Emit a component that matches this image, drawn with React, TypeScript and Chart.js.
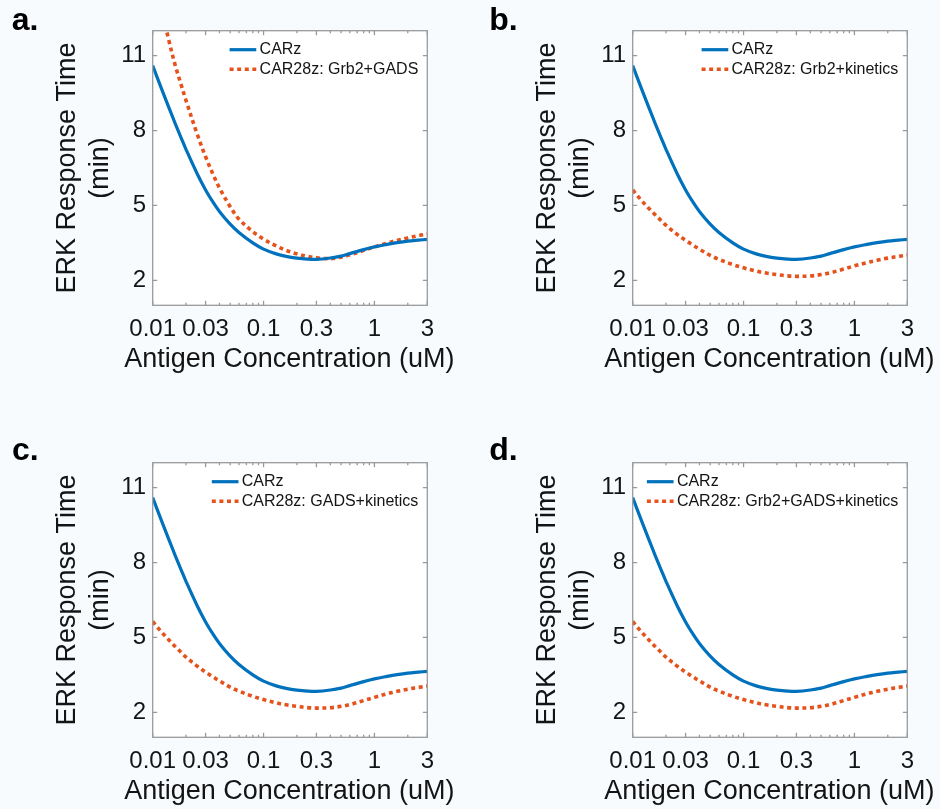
import React, { useEffect, useRef } from 'react';
import { Chart, registerables } from 'chart.js';

Chart.register(...registerables);

// ---------- data ----------
const concentrationUM = [
  0.01, 0.012, 0.014, 0.016, 0.018, 0.02, 0.025, 0.03, 0.035, 0.04, 0.05, 0.06, 0.08,
  0.1, 0.13, 0.16, 0.2, 0.25, 0.3, 0.4, 0.5, 0.6, 0.8, 1, 1.3, 1.6, 2, 2.5, 3,
];

const carzTime = [
  10.6, 9.68, 8.92, 8.27, 7.72, 7.24, 6.3, 5.62, 5.13, 4.76, 4.25, 3.92, 3.5,
  3.25, 3.06, 2.96, 2.89, 2.85, 2.84, 2.895, 2.97, 3.07, 3.23, 3.34, 3.44, 3.51, 3.57, 3.61, 3.64,
];

const grb2GadsTime = [
  14.6, 12.9, 11.6, 10.6, 9.85, 9.2, 7.9, 6.95, 6.25, 5.7, 4.95, 4.45, 3.95,
  3.65, 3.38, 3.2, 3.06, 2.96, 2.9, 2.87, 2.93, 3.02, 3.2, 3.34, 3.49, 3.6, 3.7, 3.79, 3.85,
];

const grb2KineticsTime = [
  5.62, 5.2, 4.88, 4.62, 4.4, 4.2, 3.85, 3.6, 3.41, 3.25, 3.0, 2.84, 2.63,
  2.5, 2.37, 2.29, 2.23, 2.18, 2.16, 2.175, 2.23, 2.3, 2.45, 2.58, 2.71, 2.8, 2.89, 2.96, 3.01,
];

const gadsKineticsTime = [
  5.64, 5.22, 4.9, 4.63, 4.41, 4.21, 3.86, 3.61, 3.42, 3.26, 3.01, 2.85, 2.64,
  2.51, 2.38, 2.3, 2.24, 2.19, 2.17, 2.185, 2.24, 2.31, 2.47, 2.6, 2.74, 2.84, 2.93, 3.0, 3.05,
];

const grb2GadsKineticsTime = [
  5.64, 5.22, 4.9, 4.63, 4.41, 4.21, 3.86, 3.61, 3.42, 3.26, 3.01, 2.85, 2.64,
  2.51, 2.38, 2.3, 2.24, 2.19, 2.17, 2.185, 2.24, 2.31, 2.47, 2.6, 2.74, 2.84, 2.93, 3.0, 3.05,
];

const xTickValues = [0.01, 0.03, 0.1, 0.3, 1, 3];
const xTickLabels = ['0.01', '0.03', '0.1', '0.3', '1', '3'];
const yTickValues = [2, 5, 8, 11];
const yTickLabels = ['2', '5', '8', '11'];

const xTitle = 'Antigen Concentration (uM)';
const yTitle = ['ERK Response Time', '(min)'];

const panelLetters = ['a', 'b', 'c', 'd'];
const comparisonLabels = [
  'CAR28z: Grb2+GADS',
  'CAR28z: Grb2+kinetics',
  'CAR28z: GADS+kinetics',
  'CAR28z: Grb2+GADS+kinetics',
];
const comparisonSeries = [grb2GadsTime, grb2KineticsTime, gadsKineticsTime, grb2GadsKineticsTime];

// ---------- styles ----------
const FONT = '"Liberation Sans", Arial, Helvetica, sans-serif';
const BLUE = '#0072BD';
const ORANGE = '#E5521B';
const TEXT = '#141414';
const AXIS = '#9a9a9a';
const PAGE_BG = '#f7fbfd';

const CW = 460;
const CH = 377;
const PLOT_LEFT = 152.7;
const PLOT_RIGHT = 427.3;
const PLOT_TOP = 30.7;
const PLOT_BOTTOM = 305.3;

const layouts = [
  { left: 0, top: 0, letterX: 11.7, letterY: 30 },
  { left: 480, top: 0, letterX: 9.3, letterY: 30 },
  { left: 0, top: 432, letterX: 12, letterY: 28 },
  { left: 480, top: 432, letterX: 9.3, letterY: 28 },
];

function minorTicks(): number[] {
  const out: number[] = [];
  for (const d of [0.01, 0.1, 1]) {
    for (let m = 2; m <= 9; m++) {
      const v = +(d * m).toPrecision(3);
      if (v <= 3 && !xTickValues.includes(v)) out.push(v);
    }
  }
  return out;
}

const framePlugin = {
  id: 'frame',
  beforeDatasetsDraw(chart: any) {
    const { ctx, chartArea: a } = chart;
    ctx.save();
    ctx.fillStyle = '#ffffff';
    ctx.fillRect(a.left, a.top, a.right - a.left, a.bottom - a.top);
    ctx.restore();
  },
  afterDatasetsDraw(chart: any, _args: any, opts: any) {
    const { ctx, chartArea: a } = chart;
    const xs = chart.scales.x;
    const ys = chart.scales.y;
    ctx.save();
    ctx.strokeStyle = AXIS;
    ctx.lineWidth = 1.3;
    ctx.strokeRect(a.left, a.top, a.right - a.left, a.bottom - a.top);
    ctx.beginPath();
    const major = 4.5;
    const minor = 2.5;
    for (const v of xTickValues) {
      const px = xs.getPixelForValue(v);
      ctx.moveTo(px, a.bottom); ctx.lineTo(px, a.bottom - major);
      ctx.moveTo(px, a.top); ctx.lineTo(px, a.top + major);
    }
    for (const v of minorTicks()) {
      const px = xs.getPixelForValue(v);
      ctx.moveTo(px, a.bottom); ctx.lineTo(px, a.bottom - minor);
      ctx.moveTo(px, a.top); ctx.lineTo(px, a.top + minor);
    }
    for (const v of yTickValues) {
      const py = ys.getPixelForValue(v);
      ctx.moveTo(a.left, py); ctx.lineTo(a.left + major, py);
      ctx.moveTo(a.right, py); ctx.lineTo(a.right - major, py);
    }
    ctx.stroke();

    // legend
    ctx.font = `16px ${FONT}`;
    ctx.textBaseline = 'middle';
    ctx.textAlign = 'left';
    const ds = chart.data.datasets;
    const widths = ds.map((d: any) => ctx.measureText(d.label).width);
    const textLeft = a.right - 9 - Math.max(...widths);
    const rowY = [a.top + 19, a.top + 38.5];
    ds.forEach((d: any, i: number) => {
      const y = rowY[i];
      ctx.save();
      ctx.strokeStyle = d.borderColor;
      ctx.lineWidth = d.borderWidth;
      ctx.setLineDash(d.borderDash || []);
      ctx.beginPath();
      ctx.moveTo(textLeft - 30, y);
      ctx.lineTo(textLeft - 3.3, y);
      ctx.stroke();
      ctx.restore();
      ctx.fillStyle = TEXT;
      ctx.fillText(d.label, textLeft, y);
    });

    // x axis title (drawn here so it is not squeezed to the plot width)
    ctx.font = `27px ${FONT}`;
    ctx.textAlign = 'center';
    ctx.textBaseline = 'alphabetic';
    ctx.fillStyle = TEXT;
    ctx.fillText(xTitle, (a.left + a.right) / 2 - 0.7, a.bottom + 62);

    // panel letter
    ctx.font = `bold 32px ${FONT}`;
    ctx.textAlign = 'left';
    ctx.fillStyle = '#000';
    ctx.fillText(opts.letter + '.', opts.letterX, opts.letterY);
    ctx.restore();
  },
};

function Panel({ index }: { index: number }) {
  const ref = useRef<HTMLCanvasElement | null>(null);
  const lay = layouts[index];
  useEffect(() => {
    if (!ref.current) return;
    const chart = new Chart(ref.current, {
      type: 'line',
      data: {
        datasets: [
          {
            label: 'CARz',
            data: concentrationUM.map((x, i) => ({ x, y: carzTime[i] })),
            borderColor: BLUE,
            borderWidth: 3.2,
            pointRadius: 0,
            tension: 0.35,
            clip: 0,
          },
          {
            label: comparisonLabels[index],
            data: concentrationUM.map((x, i) => ({ x, y: comparisonSeries[index][i] })),
            borderColor: ORANGE,
            borderWidth: 3.6,
            borderDash: [4, 3.6],
            pointRadius: 0,
            tension: 0.35,
            clip: 0,
          },
        ],
      } as any,
      options: {
        animation: false,
        responsive: false,
        devicePixelRatio: 1,
        layout: { padding: { left: 0, top: PLOT_TOP, right: CW - PLOT_RIGHT, bottom: 0 } },
        plugins: {
          legend: { display: false },
          tooltip: { enabled: false },
          frame: { letter: panelLetters[index], letterX: lay.letterX, letterY: lay.letterY },
        } as any,
        scales: {
          x: {
            type: 'logarithmic',
            min: 0.01,
            max: 3,
            position: 'bottom',
            grid: { display: false, drawTicks: false },
            border: { display: false },
            afterBuildTicks: (s: any) => {
              s.ticks = xTickValues.map((v) => ({ value: v }));
            },
            afterFit: (s: any) => {
              s.height = CH - PLOT_BOTTOM;
            },
            ticks: {
              autoSkip: false,
              maxRotation: 0,
              minRotation: 0,
              padding: 10,
              color: TEXT,
              font: { family: FONT, size: 24 },
              callback: (_v: any, i: number) => xTickLabels[i],
            },
            title: { display: false },
          },
          y: {
            type: 'linear',
            min: 1,
            max: 12,
            grid: { display: false, drawTicks: false },
            border: { display: false },
            afterBuildTicks: (s: any) => {
              s.ticks = yTickValues.map((v) => ({ value: v }));
            },
            afterFit: (s: any) => {
              s.width = PLOT_LEFT;
            },
            ticks: {
              padding: 6.5,
              color: TEXT,
              font: { family: FONT, size: 24 },
              callback: (_v: any, i: number) => yTickLabels[i],
            },
            title: {
              display: true,
              text: yTitle,
              color: TEXT,
              font: { family: FONT, size: 27 },
              padding: { top: PLOT_LEFT - 84.8 - 16.2, bottom: 0 },
            },
          },
        } as any,
      },
      plugins: [framePlugin as any],
    });
    return () => chart.destroy();
  }, [index]);
  return (
    <canvas
      ref={ref}
      width={CW}
      height={CH}
      style={{ position: 'absolute', left: lay.left, top: lay.top, width: CW, height: CH }}
    />
  );
}

export default function App() {
  return (
    <div
      style={{
        position: 'absolute',
        left: 0,
        top: 0,
        width: 940,
        height: 809,
        background: PAGE_BG,
        overflow: 'hidden',
      }}
    >
      {panelLetters.map((_, i) => (
        <Panel key={i} index={i} />
      ))}
    </div>
  );
}
